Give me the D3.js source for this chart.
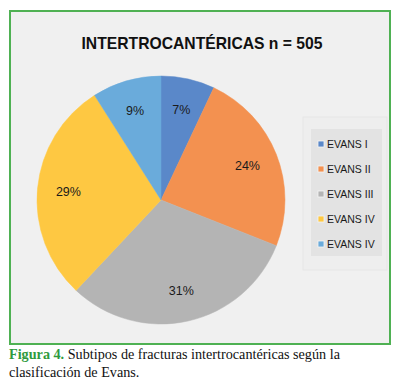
<!DOCTYPE html>
<html>
<head>
<meta charset="utf-8">
<script src="https://cdn.jsdelivr.net/npm/d3@7"></script>
<style>
  html, body { margin: 0; padding: 0; background: #fff; }
  svg { display: block; }
</style>
</head>
<body>
<svg id="chart"></svg>
<script>
// data
const categories = ['EVANS I', 'EVANS II', 'EVANS III', 'EVANS IV', 'EVANS IV'];
const values = [7, 24, 31, 29, 9];
const colors = ['#5a88c9', '#f39150', '#b4b4b4', '#fec842', '#6aabdb'];
const title = 'INTERTROCANTÉRICAS n = 505';

const width = 400, height = 391;
const cx = 161, cy = 200, radius = 124;

const svg = d3.select('#chart')
    .attr('width', width)
    .attr('height', height);

// framed panel
svg.append('rect')
    .attr('x', 10).attr('y', 11)
    .attr('width', 380).attr('height', 333)
    .attr('fill', '#f0f0f0')
    .attr('stroke', '#4fb153')
    .attr('stroke-width', 2);

svg.append('text')
    .attr('x', 202).attr('y', 49)
    .attr('text-anchor', 'middle')
    .style('font-family', '"Liberation Sans", Arial, sans-serif')
    .style('font-weight', 'bold')
    .style('font-size', '15.7px')
    .attr('fill', '#111')
    .text(title);

const data = categories.map((c, i) => ({ label: c, value: values[i], color: colors[i] }));

const pie = d3.pie().value(d => d.value).sort(null);
const arc = d3.arc().innerRadius(0).outerRadius(radius);
const labelArc = d3.arc().innerRadius(radius * 0.75).outerRadius(radius * 0.75);

const g = svg.append('g')
    .attr('transform', `translate(${cx}, ${cy})`);

const arcs = g.selectAll('.arc')
    .data(pie(data))
    .enter()
    .append('g')
    .attr('class', 'arc');

arcs.append('path')
    .attr('d', arc)
    .attr('fill', d => d.data.color)
    .attr('stroke', d => d.data.color)
    .attr('stroke-width', 0.5);

arcs.append('text')
    .attr('transform', d => `translate(${labelArc.centroid(d)})`)
    .attr('dy', '.35em')
    .style('font-family', '"Liberation Sans", Arial, sans-serif')
    .style('font-size', '12.5px')
    .style('text-anchor', 'middle')
    .attr('fill', '#1a1a1a')
    .text(d => d.data.value + '%');

// legend
svg.append('rect')
    .attr('x', 303).attr('y', 117)
    .attr('width', 84).attr('height', 153)
    .attr('fill', '#eeeeee')
    .attr('stroke', '#e6e6e6')
    .attr('stroke-width', 1);

svg.append('rect')
    .attr('x', 311).attr('y', 129)
    .attr('width', 71).attr('height', 127)
    .attr('fill', '#e3e3e3');

const y = d3.scalePoint()
    .domain(d3.range(categories.length))
    .range([144, 244]);

const legend = svg.selectAll('.leg')
    .data(data)
    .enter()
    .append('g')
    .attr('class', 'leg')
    .attr('transform', (d, i) => `translate(318, ${y(i)})`);

legend.append('rect')
    .attr('x', 0).attr('y', -3)
    .attr('width', 6).attr('height', 6)
    .attr('fill', d => d.color)
    .attr('stroke', '#f4f4f4')
    .attr('stroke-width', 0.8);

legend.append('text')
    .attr('x', 9).attr('dy', '.35em')
    .style('font-family', '"Liberation Sans", Arial, sans-serif')
    .style('font-size', '10.5px')
    .attr('fill', '#1a1a1a')
    .text(d => d.label);

// caption
const cap = svg.append('text')
    .attr('x', 9).attr('y', 359)
    .style('font-family', '"Liberation Serif", "Times New Roman", serif')
    .style('font-size', '14.2px')
    .attr('fill', '#111');
cap.append('tspan')
    .attr('fill', '#2f9a3e')
    .style('font-weight', 'bold')
    .text('Figura 4.');
cap.append('tspan').text(' Subtipos de fracturas intertrocantéricas según la');

svg.append('text')
    .attr('x', 9).attr('y', 377)
    .style('font-family', '"Liberation Serif", "Times New Roman", serif')
    .style('font-size', '14.2px')
    .attr('fill', '#111')
    .text('clasificación de Evans.');
</script>
</body>
</html>
